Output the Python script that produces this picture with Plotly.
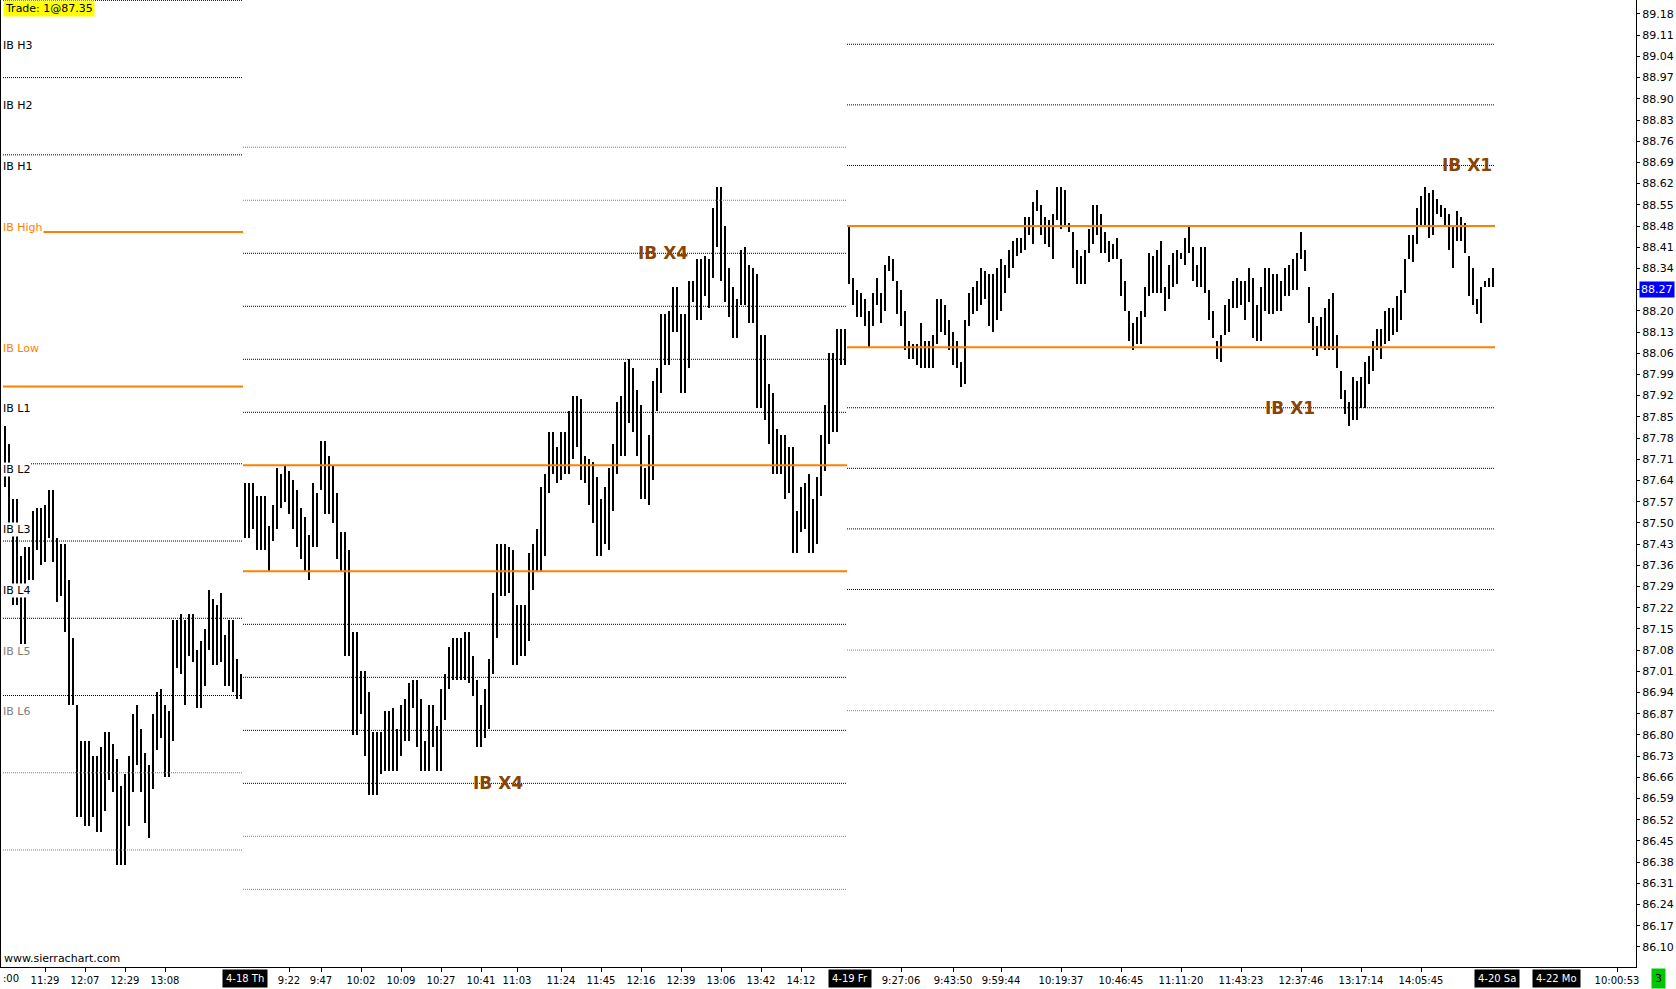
import plotly.graph_objects as go

# bar highs / lows per session
s1_high = [87.82, 87.76, 87.58, 87.58, 87.39, 87.42, 87.42, 87.54, 87.55, 87.55,
           87.56, 87.61, 87.61, 87.45, 87.43, 87.43, 87.31, 87.12, 86.90, 86.78,
           86.78, 86.78, 86.73, 86.73, 86.76, 86.81, 86.81, 86.77, 86.72, 86.63,
           86.67, 86.73, 86.87, 86.90, 86.82, 86.74, 86.70, 86.87, 86.94, 86.95,
           86.90, 86.88, 87.18, 87.18, 87.20, 87.18, 87.20, 87.20, 87.08, 87.11,
           87.15, 87.28, 87.25, 87.23, 87.27, 87.13, 87.18, 87.18, 87.05, 87.00]
s1_low = [87.62, 87.50, 87.23, 87.23, 87.10, 87.10, 87.31, 87.31, 87.41, 87.36,
          87.37, 87.45, 87.37, 87.24, 87.26, 87.14, 86.90, 86.90, 86.53, 86.53,
          86.50, 86.50, 86.53, 86.48, 86.48, 86.55, 86.65, 86.61, 86.37, 86.37,
          86.37, 86.50, 86.61, 86.70, 86.61, 86.51, 86.46, 86.62, 86.75, 86.79,
          86.66, 86.66, 86.78, 87.02, 87.00, 86.90, 87.06, 87.04, 86.89, 86.89,
          86.96, 87.08, 87.03, 87.03, 87.04, 86.96, 86.96, 86.94, 86.92, 86.92]

s2_high = [87.63, 87.63, 87.63, 87.59, 87.59, 87.59, 87.49, 87.56, 87.68, 87.66,
           87.69, 87.67, 87.64, 87.61, 87.55, 87.52, 87.46, 87.63, 87.60, 87.77,
           87.77, 87.72, 87.69, 87.60, 87.47, 87.47, 87.41, 87.14, 87.14, 87.01,
           87.01, 86.94, 86.81, 86.81, 86.81, 86.88, 86.88, 86.89, 86.82, 86.90,
           86.92, 86.97, 86.98, 86.98, 86.92, 86.78, 86.90, 86.90, 86.83, 86.95,
           87.00, 87.09, 87.12, 87.12, 87.12, 87.14, 87.14, 87.06, 86.98, 86.90,
           86.95, 87.05, 87.27, 87.43, 87.43, 87.43, 87.42, 87.41, 87.23, 87.23,
           87.23, 87.40, 87.43, 87.48, 87.62, 87.66, 87.80, 87.80, 87.75, 87.80,
           87.80, 87.87, 87.92, 87.92, 87.91, 87.72, 87.71, 87.70, 87.65, 87.58,
           87.62, 87.68, 87.76, 87.90, 87.92, 88.03, 88.04, 88.01, 87.94, 87.89,
           87.68, 87.79, 87.97, 88.01, 88.19, 88.19, 88.20, 88.28, 88.28, 88.19,
           88.19, 88.30, 88.30, 88.37, 88.37, 88.38, 88.37, 88.54, 88.61, 88.61,
           88.48, 88.34, 88.28, 88.24, 88.40, 88.41, 88.35, 88.34, 88.32, 88.12,
           88.12, 87.96, 87.93, 87.81, 87.79, 87.79, 87.75, 87.75, 87.54, 87.62,
           87.63, 87.66, 87.58, 87.65, 87.79, 87.89, 88.06, 88.06, 88.14, 88.14,
           88.14]
s2_low = [87.45, 87.45, 87.48, 87.41, 87.41, 87.41, 87.34, 87.44, 87.48, 87.55,
          87.57, 87.53, 87.48, 87.42, 87.38, 87.34, 87.31, 87.42, 87.42, 87.61,
          87.53, 87.53, 87.50, 87.38, 87.34, 87.06, 87.06, 86.80, 86.80, 86.87,
          86.73, 86.60, 86.60, 86.60, 86.67, 86.68, 86.68, 86.68, 86.68, 86.73,
          86.78, 86.78, 86.89, 86.76, 86.68, 86.68, 86.68, 86.76, 86.68, 86.68,
          86.85, 86.95, 86.98, 86.98, 86.98, 86.98, 86.97, 86.93, 86.76, 86.76,
          86.79, 86.82, 87.00, 87.12, 87.26, 87.26, 87.27, 87.03, 87.03, 87.06,
          87.06, 87.11, 87.28, 87.34, 87.34, 87.39, 87.60, 87.66, 87.63, 87.64,
          87.66, 87.66, 87.71, 87.75, 87.64, 87.63, 87.56, 87.50, 87.39, 87.39,
          87.43, 87.41, 87.54, 87.66, 87.72, 87.72, 87.83, 87.80, 87.72, 87.58,
          87.58, 87.56, 87.64, 87.87, 87.93, 88.02, 88.02, 88.13, 88.13, 87.93,
          87.93, 88.01, 88.23, 88.17, 88.17, 88.25, 88.21, 88.31, 88.41, 88.30,
          88.23, 88.18, 88.11, 88.11, 88.22, 88.22, 88.16, 88.16, 87.88, 87.88,
          87.84, 87.76, 87.66, 87.66, 87.66, 87.58, 87.60, 87.40, 87.40, 87.47,
          87.48, 87.40, 87.40, 87.43, 87.59, 87.67, 87.76, 87.80, 87.80, 88.02,
          88.02]

s3_high = [88.48, 88.31, 88.27, 88.26, 88.24, 88.20, 88.26, 88.31, 88.26, 88.35,
           88.38, 88.37, 88.30, 88.27, 88.20, 88.10, 88.09, 88.09, 88.16, 88.10,
           88.10, 88.12, 88.24, 88.24, 88.22, 88.17, 88.13, 88.10, 88.03, 88.17,
           88.26, 88.28, 88.30, 88.34, 88.33, 88.32, 88.32, 88.34, 88.37, 88.35,
           88.40, 88.43, 88.44, 88.44, 88.51, 88.51, 88.56, 88.60, 88.55, 88.51,
           88.50, 88.52, 88.61, 88.61, 88.60, 88.49, 88.46, 88.40, 88.38, 88.40,
           88.47, 88.55, 88.55, 88.52, 88.46, 88.43, 88.42, 88.44, 88.37, 88.30,
           88.20, 88.16, 88.18, 88.20, 88.28, 88.39, 88.38, 88.40, 88.43, 88.28,
           88.35, 88.39, 88.40, 88.39, 88.44, 88.48, 88.41, 88.35, 88.41, 88.41,
           88.27, 88.20, 88.10, 88.12, 88.22, 88.24, 88.30, 88.31, 88.30, 88.30,
           88.34, 88.31, 88.22, 88.28, 88.34, 88.34, 88.32, 88.32, 88.30, 88.34,
           88.35, 88.37, 88.39, 88.46, 88.40, 88.28, 88.18, 88.15, 88.18, 88.21,
           88.24, 88.26, 88.12, 88.00, 87.94, 87.90, 87.98, 87.97, 87.98, 88.03,
           88.05, 88.10, 88.14, 88.14, 88.20, 88.21, 88.21, 88.25, 88.27, 88.37,
           88.45, 88.45, 88.54, 88.58, 88.61, 88.59, 88.60, 88.57, 88.55, 88.54,
           88.52, 88.48, 88.53, 88.51, 88.49, 88.38, 88.34, 88.24, 88.28, 88.30,
           88.31, 88.34]
s3_low = [88.29, 88.22, 88.18, 88.18, 88.15, 88.08, 88.15, 88.22, 88.16, 88.20,
          88.33, 88.30, 88.19, 88.15, 88.07, 88.04, 88.04, 88.02, 88.01, 88.01,
          88.01, 88.01, 88.09, 88.13, 88.12, 88.07, 88.02, 88.01, 87.95, 87.96,
          88.15, 88.19, 88.20, 88.22, 88.24, 88.15, 88.13, 88.17, 88.20, 88.26,
          88.31, 88.34, 88.38, 88.39, 88.40, 88.45, 88.42, 88.53, 88.45, 88.42,
          88.41, 88.37, 88.50, 88.47, 88.48, 88.46, 88.34, 88.29, 88.29, 88.29,
          88.39, 88.42, 88.45, 88.39, 88.39, 88.36, 88.37, 88.37, 88.25, 88.20,
          88.10, 88.07, 88.09, 88.09, 88.18, 88.25, 88.26, 88.26, 88.26, 88.20,
          88.24, 88.28, 88.29, 88.37, 88.35, 88.39, 88.30, 88.28, 88.28, 88.26,
          88.17, 88.11, 88.04, 88.03, 88.12, 88.13, 88.21, 88.21, 88.22, 88.17,
          88.23, 88.11, 88.10, 88.10, 88.20, 88.19, 88.19, 88.20, 88.20, 88.25,
          88.25, 88.27, 88.27, 88.37, 88.33, 88.16, 88.07, 88.05, 88.08, 88.07,
          88.07, 88.07, 88.01, 87.91, 87.86, 87.82, 87.84, 87.84, 87.88, 87.88,
          87.96, 88.00, 88.07, 88.04, 88.09, 88.10, 88.12, 88.13, 88.17, 88.26,
          88.37, 88.36, 88.42, 88.48, 88.48, 88.44, 88.45, 88.52, 88.51, 88.48,
          88.40, 88.34, 88.43, 88.43, 88.39, 88.25, 88.22, 88.19, 88.16, 88.28,
          88.28, 88.28]

# initial balance per session
ib_high = [88.46, 87.69, 88.48]
ib_low = [87.95, 87.34, 88.08]

# x axis labels (bar index -> text)
tick_bars = [10, 20, 30, 40, 71, 79, 89, 99, 109, 119, 128, 139, 149, 159, 169,
             179, 189, 199, 224, 237, 249, 264, 279, 294, 309, 324, 339, 354, 403]
tick_text = ["11:29", "12:07", "12:29", "13:08", "9:22", "9:47", "10:02", "10:09",
             "10:27", "10:41", "11:03", "11:24", "11:45", "12:16", "12:39", "13:06",
             "13:42", "14:12", "9:27:06", "9:43:50", "9:59:44", "10:19:37",
             "10:46:45", "11:11:20", "11:43:23", "12:37:46", "13:17:14", "14:05:45",
             "10:00:53"]
date_bars = [60, 211.25, 373, 387.75]
date_text = ["4-18 Th", "4-19 Fr", "4-20 Sa", "4-22 Mo"]

last_price = 88.27
trade_text = "Trade: 1@87.35"

FONT = "DejaVu Sans"
ORANGE = "#FF8000"
GRAY = "#808080"
BROWN = "#884400"

highs = s1_high + s2_high + s3_high
lows = s1_low + s2_low + s3_low
sizes = [len(s1_high), len(s2_high), len(s3_high)]
starts = [0, sizes[0], sizes[0] + sizes[1]]

fig = go.Figure()
fig.add_trace(go.Bar(
    x=list(range(len(highs))), base=lows,
    y=[h - l for h, l in zip(highs, lows)],
    width=0.5, marker=dict(color="black", line=dict(width=0)),
    hoverinfo="skip"))


def level(s, k):
    half = (ib_high[s] - ib_low[s]) / 2
    return ib_high[s] + k * half if k > 0 else ib_low[s] + k * half


# level lines for each session
lines = {"black": ([], []), "gray": ([], []), "orange": ([], [])}
for s in range(3):
    x0, x1 = starts[s] - 0.5, starts[s] + sizes[s] - 0.5
    for key, y in [("orange", ib_high[s]), ("orange", ib_low[s])]:
        lines[key][0].extend([x0, x1, None])
        lines[key][1].extend([y, y, None])
    for k in range(1, 7):
        key = "black" if k <= 4 else "gray"
        for y in (level(s, k), level(s, -k)):
            lines[key][0].extend([x0, x1, None])
            lines[key][1].extend([y, y, None])

fig.add_trace(go.Scatter(x=lines["black"][0], y=lines["black"][1], mode="lines",
                         line=dict(color="black", width=1, dash="1px,1px"), hoverinfo="skip"))
fig.add_trace(go.Scatter(x=lines["gray"][0], y=lines["gray"][1], mode="lines",
                         line=dict(color=GRAY, width=1, dash="1px,1px"), hoverinfo="skip"))
fig.add_trace(go.Scatter(x=lines["orange"][0], y=lines["orange"][1], mode="lines",
                         line=dict(color=ORANGE, width=2), hoverinfo="skip"))

# labels at the left edge for the latest session's levels
labels = [("IB H3", level(2, 3), "black"), ("IB H2", level(2, 2), "black"),
          ("IB H1", level(2, 1), "black"), ("IB High", ib_high[2], ORANGE),
          ("IB Low", ib_low[2], ORANGE), ("IB L1", level(2, -1), "black"),
          ("IB L2", level(2, -2), "black"), ("IB L3", level(2, -3), "black"),
          ("IB L4", level(2, -4), "black"), ("IB L5", level(2, -5), GRAY),
          ("IB L6", level(2, -6), GRAY)]
for text, y, col in labels:
    fig.add_annotation(x=0, xref="paper", xanchor="left", xshift=1, y=y, yref="y",
                       yanchor="middle", yshift=-1, text=text, showarrow=False,
                       bgcolor="white", borderpad=0,
                       font=dict(family=FONT, size=11, color=col))

# extension hit markers
for text, bx, y in [("IB X4", 164.5, level(1, 4)), ("IB X4", 123.25, level(1, -4)),
                    ("IB X1", 365.5, level(2, 1)), ("IB X1", 321.25, level(2, -1))]:
    fig.add_annotation(x=bx, y=y, text="<b>%s</b>" % text, showarrow=False,
                       font=dict(family=FONT, size=17, color=BROWN))

fig.add_annotation(x=0, xref="paper", xanchor="left", xshift=2, y=1, yref="paper",
                   yanchor="top", text=trade_text, showarrow=False, bgcolor="#FFFF00",
                   borderpad=1, font=dict(family=FONT, size=11, color="black"))
fig.add_annotation(x=0, xref="paper", xanchor="left", xshift=1, y=0.0083, yref="paper",
                   yanchor="middle", text="www.sierrachart.com", showarrow=False,
                   font=dict(family=FONT, size=11, color="black"))
fig.add_annotation(x=0, xref="paper", xanchor="left", y=-0.0124, yref="paper",
                   yanchor="middle", text=":00", showarrow=False,
                   font=dict(family=FONT, size=10, color="black"))
for bx, text in zip(date_bars, date_text):
    fig.add_annotation(x=bx, xref="x", y=-0.0124, yref="paper", yanchor="middle",
                       text=text, showarrow=False, bgcolor="black", borderpad=3,
                       font=dict(family=FONT, size=10, color="white"))
fig.add_annotation(x=1.0184, xref="paper", y=-0.0124, yref="paper", yanchor="middle",
                   text="3", showarrow=False, bgcolor="#00C800", borderpad=3,
                   font=dict(family=FONT, size=11, color="black"))
fig.add_annotation(x=1.0018, xref="paper", xanchor="left", y=last_price, yref="y",
                   text="%.2f" % last_price, showarrow=False, bgcolor="#0000FF",
                   borderpad=1, font=dict(family=FONT, size=11, color="white"))

fig.update_layout(
    width=1676, height=989,
    margin=dict(l=1, r=40, t=0, b=22),
    paper_bgcolor="white", plot_bgcolor="white",
    showlegend=False, bargap=0,
    xaxis=dict(range=[-1, 407.75], showgrid=False, zeroline=False,
               showline=True, linecolor="black", linewidth=1,
               ticks="outside", ticklen=4, tickcolor="black", tickangle=0,
               tickvals=tick_bars, ticktext=tick_text,
               tickfont=dict(family=FONT, size=10, color="black")),
    yaxis=dict(range=[86.0337, 89.2262], side="right", showgrid=False, zeroline=False,
               showline=True, mirror=True, linecolor="black", linewidth=1,
               ticks="outside", ticklen=3, tickcolor="black",
               tick0=86.10, dtick=0.07, tickformat=".2f",
               tickfont=dict(family=FONT, size=11, color="black")),
)

# page body has a default 8px margin; drop it so the figure fills the window
fig.write_html("out.html", config={"displayModeBar": False},
               post_script="document.body.style.margin='0';"
                           "document.body.style.overflow='hidden';")
